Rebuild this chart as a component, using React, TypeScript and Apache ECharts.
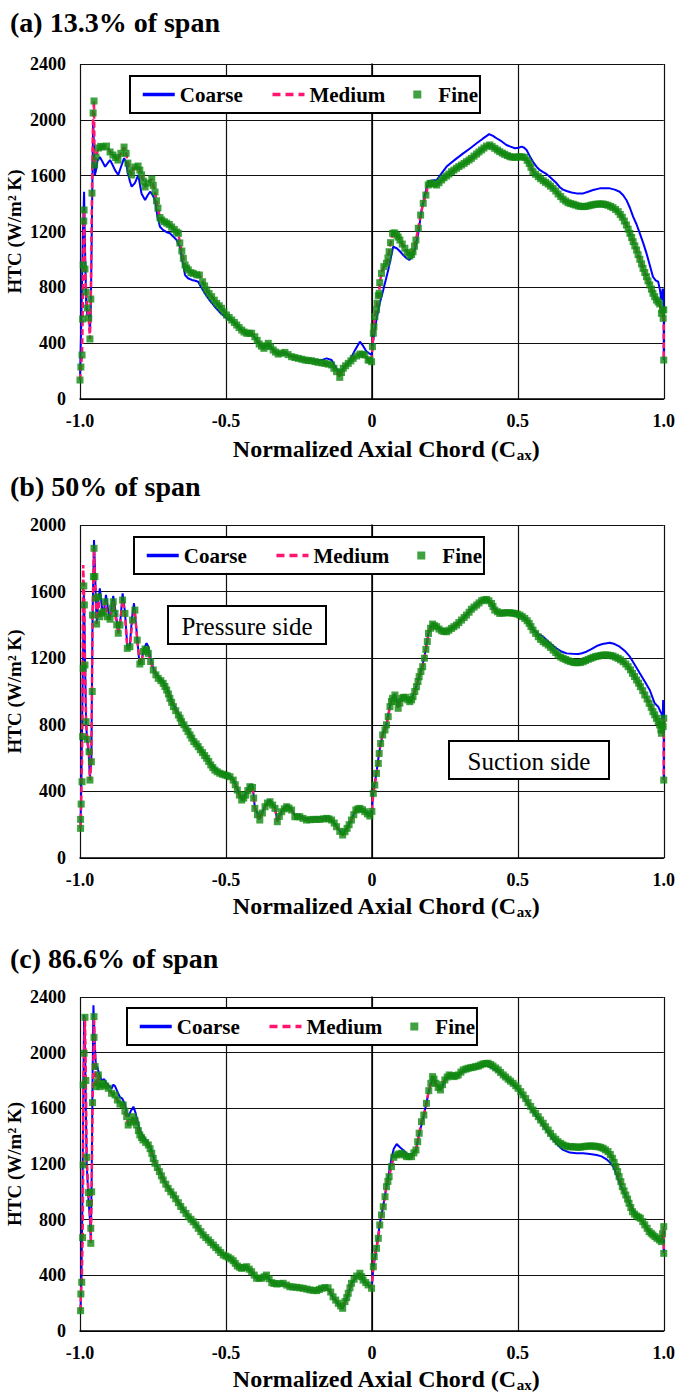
import React, { useEffect, useRef } from "react";
import * as echarts from "echarts";

// ---------- tick labels & categories ----------
const xTickLabels = ["-1.0", "-0.5", "0", "0.5", "1.0"];
const yMaxima = [2400, 2000, 2400];
const panelTitles = ["(a) 13.3% of span", "(b) 50% of span", "(c) 86.6% of span"];
const meshNames = ["Coarse", "Medium", "Fine"];

// ---------- (a) 13.3 % span ----------
const coarseA: number[][] = [
  [-1.0, 140], [-0.995, 600], [-0.99, 1200], [-0.986, 1485], [-0.983, 1100], [-0.979, 700], [-0.975, 600],
  [-0.97, 620], [-0.966, 480], [-0.963, 650], [-0.959, 1300], [-0.955, 1987], [-0.952, 1800], [-0.949, 1605],
  [-0.945, 1640], [-0.94, 1710], [-0.932, 1733], [-0.923, 1700], [-0.914, 1664], [-0.905, 1690], [-0.897, 1712],
  [-0.889, 1680], [-0.88, 1640], [-0.869, 1605], [-0.86, 1660], [-0.849, 1726], [-0.843, 1700], [-0.836, 1620],
  [-0.829, 1560], [-0.823, 1521], [-0.812, 1547], [-0.8, 1605], [-0.795, 1540], [-0.789, 1470], [-0.777, 1426],
  [-0.768, 1460], [-0.76, 1485], [-0.752, 1465], [-0.743, 1426], [-0.735, 1310], [-0.726, 1234], [-0.715, 1210],
  [-0.703, 1195], [-0.692, 1187], [-0.68, 1163], [-0.669, 1139], [-0.658, 1091], [-0.65, 1000], [-0.64, 888],
  [-0.63, 865], [-0.617, 853], [-0.605, 847], [-0.595, 840], [-0.585, 800], [-0.572, 757], [-0.555, 705],
  [-0.538, 661], [-0.52, 620], [-0.498, 578], [-0.48, 560], [-0.463, 530], [-0.446, 494], [-0.429, 471],
  [-0.412, 466], [-0.401, 440], [-0.386, 400], [-0.37, 365], [-0.355, 390], [-0.338, 355], [-0.321, 325],
  [-0.298, 330], [-0.275, 305], [-0.252, 295], [-0.229, 285], [-0.207, 280], [-0.184, 278], [-0.168, 282],
  [-0.155, 291], [-0.138, 279], [-0.125, 230], [-0.11, 184], [-0.095, 230], [-0.075, 279], [-0.058, 350],
  [-0.041, 411], [-0.03, 380], [-0.018, 339], [-0.001, 315], [0.005, 423], [0.015, 560], [0.025, 670],
  [0.039, 781], [0.056, 924], [0.073, 1091], [0.085, 1080], [0.095, 1060], [0.107, 1032], [0.118, 1010],
  [0.128, 996], [0.138, 1020], [0.147, 1067], [0.159, 1187], [0.17, 1350], [0.18, 1450], [0.193, 1557],
  [0.205, 1565], [0.222, 1569], [0.24, 1620], [0.256, 1665], [0.285, 1715], [0.313, 1760], [0.336, 1795],
  [0.359, 1832], [0.38, 1865], [0.402, 1898], [0.415, 1885], [0.427, 1868], [0.445, 1845], [0.461, 1820],
  [0.475, 1808], [0.49, 1796], [0.503, 1800], [0.513, 1808], [0.522, 1800], [0.53, 1784], [0.541, 1740],
  [0.552, 1700], [0.564, 1665], [0.575, 1641], [0.587, 1625], [0.598, 1612], [0.61, 1590], [0.621, 1569],
  [0.633, 1545], [0.644, 1517], [0.655, 1500], [0.667, 1490], [0.684, 1480], [0.701, 1473], [0.724, 1473],
  [0.741, 1485], [0.758, 1497], [0.781, 1509], [0.8, 1510], [0.815, 1509], [0.832, 1500], [0.849, 1485],
  [0.861, 1460], [0.872, 1426], [0.884, 1370], [0.895, 1306], [0.907, 1250], [0.918, 1187], [0.93, 1115],
  [0.941, 1043], [0.952, 960], [0.963, 876], [0.972, 850], [0.981, 840], [0.987, 780], [0.992, 709],
  [0.996, 790], [0.998, 781], [1.0, 616], [1.0, 279],
];

const fineA: number[][] = [
  [-1.0, 136], [-0.997, 229], [-0.993, 315], [-0.991, 573], [-0.989, 960], [-0.987, 1275], [-0.986, 1354],
  [-0.983, 931], [-0.979, 766], [-0.975, 652], [-0.97, 580], [-0.966, 430], [-0.963, 716], [-0.959, 1475],
  [-0.955, 2049], [-0.952, 2135], [-0.95, 1676], [-0.945, 1733], [-0.937, 1798], [-0.929, 1810], [-0.921, 1805],
  [-0.909, 1812], [-0.897, 1770], [-0.887, 1748], [-0.878, 1730], [-0.87, 1712], [-0.86, 1760], [-0.849, 1805],
  [-0.842, 1760], [-0.836, 1690], [-0.829, 1640], [-0.823, 1605], [-0.812, 1662], [-0.801, 1669], [-0.795, 1640],
  [-0.789, 1605], [-0.783, 1560], [-0.777, 1519], [-0.767, 1547], [-0.754, 1576], [-0.749, 1530], [-0.743, 1483],
  [-0.738, 1420], [-0.733, 1368], [-0.726, 1300], [-0.72, 1282], [-0.711, 1270], [-0.703, 1260], [-0.694, 1250],
  [-0.686, 1232], [-0.677, 1215], [-0.669, 1196], [-0.663, 1187], [-0.658, 1118], [-0.651, 1060], [-0.646, 1008],
  [-0.64, 960], [-0.635, 938], [-0.629, 925], [-0.62, 905], [-0.612, 900], [-0.6, 890], [-0.591, 888],
  [-0.58, 840], [-0.573, 810], [-0.566, 781], [-0.558, 755], [-0.549, 733], [-0.54, 708], [-0.532, 685],
  [-0.523, 668], [-0.515, 650], [-0.507, 625], [-0.498, 602], [-0.489, 584], [-0.48, 566], [-0.471, 548],
  [-0.463, 530], [-0.455, 512], [-0.446, 494], [-0.438, 480], [-0.429, 471], [-0.42, 471], [-0.412, 471],
  [-0.401, 446], [-0.393, 420], [-0.386, 394], [-0.378, 378], [-0.37, 363], [-0.362, 380], [-0.355, 399],
  [-0.347, 375], [-0.338, 351], [-0.33, 336], [-0.321, 322], [-0.31, 328], [-0.298, 334], [-0.287, 318],
  [-0.275, 303], [-0.264, 297], [-0.252, 291], [-0.24, 285], [-0.229, 279], [-0.218, 276], [-0.207, 274],
  [-0.195, 268], [-0.184, 263], [-0.172, 259], [-0.161, 255], [-0.15, 250], [-0.138, 244], [-0.13, 220],
  [-0.121, 196], [-0.11, 155], [-0.104, 190], [-0.098, 220], [-0.09, 238], [-0.081, 255], [-0.072, 273],
  [-0.064, 291], [-0.052, 308], [-0.041, 322], [-0.032, 320], [-0.024, 315], [-0.013, 279], [-0.007, 279],
  [-0.001, 267], [0.002, 375], [0.005, 471], [0.007, 518], [0.01, 590], [0.016, 640], [0.018, 686],
  [0.022, 740], [0.025, 757], [0.027, 833], [0.033, 900], [0.041, 948], [0.05, 972], [0.055, 1010],
  [0.059, 1055], [0.064, 1120], [0.071, 1187], [0.078, 1190], [0.085, 1175], [0.09, 1160], [0.096, 1139],
  [0.104, 1110], [0.113, 1080], [0.121, 1050], [0.13, 1024], [0.136, 1035], [0.141, 1055], [0.146, 1095],
  [0.151, 1139], [0.159, 1223], [0.167, 1318], [0.176, 1402], [0.185, 1461], [0.193, 1533], [0.199, 1545],
  [0.204, 1545], [0.213, 1540], [0.222, 1533], [0.23, 1550], [0.239, 1569], [0.247, 1585], [0.256, 1598],
  [0.264, 1612], [0.273, 1628], [0.281, 1640], [0.29, 1653], [0.298, 1665], [0.307, 1676], [0.316, 1688],
  [0.324, 1700], [0.333, 1712], [0.341, 1724], [0.35, 1740], [0.359, 1755], [0.367, 1770], [0.376, 1784],
  [0.384, 1798], [0.393, 1812], [0.404, 1820], [0.412, 1808], [0.421, 1796], [0.43, 1784], [0.438, 1772],
  [0.447, 1762], [0.455, 1753], [0.464, 1744], [0.473, 1736], [0.481, 1733], [0.49, 1731], [0.498, 1734],
  [0.507, 1736], [0.515, 1734], [0.524, 1731], [0.532, 1710], [0.539, 1688], [0.545, 1660], [0.552, 1628],
  [0.561, 1610], [0.57, 1593], [0.578, 1578], [0.587, 1564], [0.595, 1552], [0.604, 1540], [0.612, 1525],
  [0.621, 1509], [0.63, 1490], [0.638, 1469], [0.647, 1450], [0.655, 1431], [0.664, 1418], [0.672, 1406],
  [0.681, 1400], [0.69, 1395], [0.698, 1389], [0.707, 1383], [0.715, 1380], [0.724, 1378], [0.732, 1380],
  [0.741, 1383], [0.75, 1388], [0.758, 1392], [0.767, 1395], [0.775, 1397], [0.784, 1397], [0.792, 1397],
  [0.8, 1393], [0.809, 1388], [0.818, 1380], [0.826, 1371], [0.835, 1358], [0.844, 1342], [0.851, 1322],
  [0.858, 1302], [0.865, 1275], [0.872, 1247], [0.878, 1217], [0.884, 1187], [0.89, 1157], [0.895, 1127],
  [0.901, 1097], [0.907, 1067], [0.912, 1034], [0.918, 1001], [0.924, 968], [0.929, 936], [0.935, 906],
  [0.941, 876], [0.946, 846], [0.952, 817], [0.958, 787], [0.963, 757], [0.969, 733], [0.975, 709],
  [0.981, 695], [0.986, 681], [0.992, 614], [0.996, 640], [0.998, 578], [1.0, 638], [1.0, 279],
];
const mediumA = fineA;

// ---------- (b) 50 % span ----------
const coarseB: number[][] = [
  [-0.998, 200], [-0.995, 500], [-0.992, 900], [-0.989, 1300], [-0.987, 1600], [-0.985, 1450], [-0.982, 1100],
  [-0.979, 800], [-0.975, 700], [-0.97, 620], [-0.966, 480], [-0.961, 600], [-0.957, 1450], [-0.952, 1910],
  [-0.948, 1700], [-0.945, 1500], [-0.942, 1420], [-0.937, 1550], [-0.932, 1620], [-0.926, 1520], [-0.92, 1460],
  [-0.911, 1580], [-0.903, 1480], [-0.897, 1440], [-0.886, 1574], [-0.878, 1480], [-0.869, 1360], [-0.862, 1420],
  [-0.854, 1590], [-0.846, 1480], [-0.838, 1270], [-0.829, 1280], [-0.822, 1440], [-0.815, 1530], [-0.806, 1360],
  [-0.797, 1180], [-0.789, 1190], [-0.78, 1260], [-0.772, 1290], [-0.766, 1270], [-0.758, 1200], [-0.749, 1140],
  [-0.732, 1090], [-0.715, 1060], [-0.703, 1020], [-0.686, 945], [-0.663, 869], [-0.637, 790], [-0.61, 710],
  [-0.58, 643], [-0.552, 569], [-0.53, 528], [-0.512, 513], [-0.495, 505], [-0.486, 495], [-0.475, 475],
  [-0.461, 415], [-0.446, 355], [-0.432, 385], [-0.418, 440], [-0.409, 440], [-0.401, 305], [-0.384, 235],
  [-0.366, 315], [-0.349, 350], [-0.332, 305], [-0.324, 225], [-0.309, 285], [-0.292, 318], [-0.275, 295],
  [-0.264, 255], [-0.247, 252], [-0.224, 235], [-0.201, 238], [-0.178, 238], [-0.155, 244], [-0.138, 232],
  [-0.121, 192], [-0.1, 140], [-0.085, 180], [-0.07, 232], [-0.055, 292], [-0.041, 302], [-0.024, 282],
  [-0.007, 258], [0.0, 285], [0.005, 395], [0.016, 515], [0.025, 635], [0.037, 745], [0.05, 805], [0.062, 915],
  [0.071, 965], [0.079, 985], [0.09, 905], [0.102, 965], [0.116, 970], [0.13, 945], [0.141, 975], [0.153, 1035],
  [0.168, 1125], [0.18, 1205], [0.194, 1355], [0.208, 1410], [0.222, 1393], [0.239, 1368], [0.256, 1362],
  [0.273, 1382], [0.29, 1402], [0.307, 1432], [0.324, 1462], [0.341, 1497], [0.359, 1522], [0.376, 1548],
  [0.393, 1556], [0.41, 1532], [0.421, 1492], [0.438, 1472], [0.455, 1476], [0.473, 1476], [0.49, 1472],
  [0.507, 1462], [0.524, 1442], [0.539, 1412], [0.552, 1375], [0.57, 1345], [0.587, 1329], [0.61, 1290],
  [0.632, 1259], [0.65, 1240], [0.667, 1229], [0.687, 1226], [0.707, 1225], [0.72, 1230], [0.735, 1239],
  [0.752, 1255], [0.77, 1273], [0.79, 1285], [0.815, 1293], [0.832, 1285], [0.849, 1269], [0.866, 1245],
  [0.884, 1209], [0.9, 1162], [0.918, 1109], [0.935, 1060], [0.952, 1009], [0.969, 929], [0.981, 909],
  [0.988, 880], [0.992, 869], [0.996, 830], [0.998, 949], [1.0, 850], [1.0, 468],
];

const fineB: number[][] = [
  [-0.998, 178], [-0.998, 232], [-0.996, 324], [-0.993, 458], [-0.991, 729], [-0.989, 1139], [-0.987, 1634],
  [-0.985, 1520], [-0.983, 1159], [-0.979, 819], [-0.975, 713], [-0.969, 638], [-0.966, 468], [-0.961, 578],
  [-0.958, 1000], [-0.957, 1459], [-0.954, 1690], [-0.952, 1860], [-0.949, 1690], [-0.946, 1560], [-0.943, 1405],
  [-0.937, 1569], [-0.932, 1449], [-0.926, 1470], [-0.92, 1479], [-0.914, 1539], [-0.906, 1449], [-0.897, 1434],
  [-0.89, 1500], [-0.886, 1539], [-0.88, 1469], [-0.874, 1400], [-0.869, 1350], [-0.863, 1399], [-0.854, 1549],
  [-0.846, 1469], [-0.838, 1259], [-0.829, 1269], [-0.82, 1429], [-0.812, 1489], [-0.804, 1309], [-0.795, 1165],
  [-0.789, 1180], [-0.783, 1240], [-0.777, 1255], [-0.772, 1249], [-0.766, 1229], [-0.758, 1180], [-0.749, 1129],
  [-0.74, 1100], [-0.732, 1079], [-0.723, 1065], [-0.715, 1049], [-0.709, 1030], [-0.703, 1009], [-0.697, 985],
  [-0.692, 959], [-0.686, 935], [-0.68, 909], [-0.672, 885], [-0.663, 859], [-0.657, 840], [-0.652, 819],
  [-0.644, 800], [-0.637, 779], [-0.63, 760], [-0.623, 739], [-0.617, 720], [-0.61, 699], [-0.602, 685],
  [-0.595, 669], [-0.588, 650], [-0.58, 633], [-0.573, 615], [-0.566, 599], [-0.559, 580], [-0.552, 559],
  [-0.545, 543], [-0.538, 528], [-0.53, 518], [-0.521, 509], [-0.512, 503], [-0.503, 498], [-0.495, 494],
  [-0.486, 488], [-0.475, 468], [-0.468, 440], [-0.461, 408], [-0.454, 378], [-0.446, 348], [-0.439, 360],
  [-0.432, 378], [-0.425, 405], [-0.418, 428], [-0.409, 424], [-0.405, 360], [-0.401, 298], [-0.392, 260],
  [-0.384, 228], [-0.375, 270], [-0.366, 308], [-0.358, 330], [-0.349, 338], [-0.34, 318], [-0.332, 298],
  [-0.324, 218], [-0.317, 250], [-0.309, 278], [-0.3, 295], [-0.292, 308], [-0.284, 300], [-0.275, 288],
  [-0.264, 248], [-0.255, 248], [-0.247, 248], [-0.236, 238], [-0.224, 228], [-0.212, 230], [-0.201, 232],
  [-0.19, 232], [-0.178, 232], [-0.166, 235], [-0.155, 238], [-0.147, 235], [-0.138, 228], [-0.129, 210],
  [-0.121, 188], [-0.11, 160], [-0.1, 138], [-0.092, 158], [-0.085, 178], [-0.078, 200], [-0.07, 228],
  [-0.062, 260], [-0.055, 288], [-0.048, 295], [-0.041, 298], [-0.032, 290], [-0.024, 278], [-0.015, 265],
  [-0.007, 252], [0.0, 280], [0.005, 388], [0.01, 438], [0.016, 508], [0.022, 568], [0.025, 628], [0.03, 688],
  [0.037, 739], [0.045, 769], [0.05, 800], [0.056, 849], [0.062, 909], [0.067, 940], [0.071, 959], [0.079, 979],
  [0.085, 940], [0.09, 899], [0.096, 930], [0.102, 959], [0.108, 965], [0.116, 965], [0.123, 950], [0.13, 939],
  [0.136, 950], [0.141, 969], [0.147, 1000], [0.153, 1029], [0.158, 1060], [0.162, 1089], [0.168, 1120],
  [0.174, 1149], [0.18, 1200], [0.185, 1253], [0.19, 1300], [0.194, 1349], [0.201, 1380], [0.208, 1405],
  [0.215, 1395], [0.222, 1389], [0.23, 1375], [0.239, 1365], [0.247, 1360], [0.256, 1359], [0.264, 1368],
  [0.273, 1379], [0.281, 1389], [0.29, 1399], [0.298, 1414], [0.307, 1429], [0.316, 1444], [0.324, 1459],
  [0.333, 1476], [0.341, 1494], [0.35, 1507], [0.359, 1519], [0.367, 1532], [0.376, 1545], [0.384, 1550],
  [0.393, 1553], [0.401, 1545], [0.41, 1529], [0.415, 1510], [0.421, 1489], [0.43, 1479], [0.438, 1469],
  [0.447, 1471], [0.455, 1473], [0.464, 1473], [0.473, 1473], [0.481, 1471], [0.49, 1469], [0.498, 1465],
  [0.507, 1459], [0.515, 1450], [0.524, 1439], [0.532, 1425], [0.539, 1409], [0.545, 1390], [0.552, 1369],
  [0.561, 1349], [0.57, 1329], [0.578, 1313], [0.587, 1299], [0.595, 1290], [0.604, 1279], [0.612, 1265],
  [0.621, 1249], [0.63, 1234], [0.638, 1219], [0.647, 1207], [0.655, 1199], [0.664, 1192], [0.672, 1185],
  [0.681, 1180], [0.69, 1175], [0.698, 1173], [0.707, 1173], [0.715, 1175], [0.724, 1179], [0.732, 1186],
  [0.741, 1193], [0.75, 1199], [0.758, 1205], [0.767, 1210], [0.775, 1213], [0.784, 1216], [0.792, 1219],
  [0.8, 1219], [0.809, 1219], [0.818, 1216], [0.826, 1213], [0.835, 1206], [0.844, 1199], [0.852, 1190],
  [0.861, 1179], [0.87, 1165], [0.878, 1149], [0.886, 1130], [0.893, 1109], [0.9, 1090], [0.907, 1069],
  [0.914, 1050], [0.92, 1029], [0.928, 1005], [0.935, 979], [0.943, 955], [0.95, 929], [0.957, 905],
  [0.963, 879], [0.969, 860], [0.975, 839], [0.981, 820], [0.986, 799], [0.99, 770], [0.992, 749],
  [0.995, 800], [0.998, 789], [1.0, 839], [1.0, 468],
];
// the medium mesh overshoots at the stagnation point, then follows the fine mesh
const mediumBLeadingEdge: number[][] = [
  [-0.998, 178], [-0.996, 324], [-0.993, 600], [-0.991, 1100], [-0.989, 1760], [-0.987, 1640], [-0.985, 1520],
  [-0.983, 1159], [-0.979, 819], [-0.975, 713], [-0.969, 638], [-0.966, 468], [-0.961, 578], [-0.957, 1459],
  [-0.952, 1860],
];
const mediumB: number[][] = [...mediumBLeadingEdge, ...fineB.filter((p) => p[0] > -0.951)];

// ---------- (c) 86.6 % span ----------
const coarseC: number[][] = [
  [-0.998, 150], [-0.995, 400], [-0.992, 900], [-0.989, 1600], [-0.986, 2270], [-0.983, 2100], [-0.98, 1600],
  [-0.977, 1200], [-0.971, 950], [-0.966, 800], [-0.963, 650], [-0.96, 1100], [-0.957, 1800], [-0.954, 2340],
  [-0.95, 2100], [-0.945, 1880], [-0.941, 1899], [-0.935, 1850], [-0.926, 1800], [-0.918, 1810], [-0.909, 1780],
  [-0.9, 1760], [-0.892, 1740], [-0.886, 1770], [-0.88, 1760], [-0.872, 1720], [-0.863, 1680], [-0.855, 1670],
  [-0.846, 1630], [-0.84, 1570], [-0.835, 1540], [-0.826, 1580], [-0.817, 1612], [-0.81, 1570], [-0.8, 1480],
  [-0.795, 1440], [-0.784, 1400], [-0.766, 1350], [-0.754, 1290], [-0.743, 1215], [-0.728, 1155], [-0.715, 1095],
  [-0.698, 1035], [-0.68, 985], [-0.663, 930], [-0.646, 878], [-0.629, 829], [-0.612, 792], [-0.595, 745],
  [-0.578, 697], [-0.56, 660], [-0.543, 624], [-0.526, 588], [-0.509, 551], [-0.492, 535], [-0.475, 510],
  [-0.461, 470], [-0.446, 452], [-0.429, 462], [-0.412, 424], [-0.395, 378], [-0.378, 378], [-0.361, 400],
  [-0.343, 345], [-0.326, 336], [-0.304, 340], [-0.281, 316], [-0.258, 312], [-0.235, 305], [-0.212, 294],
  [-0.189, 288], [-0.172, 305], [-0.161, 312], [-0.15, 300], [-0.133, 240], [-0.115, 190], [-0.1, 160],
  [-0.086, 235], [-0.07, 340], [-0.052, 392], [-0.041, 410], [-0.03, 362], [-0.013, 330], [-0.001, 305],
  [0.005, 450], [0.016, 600], [0.027, 770], [0.039, 900], [0.05, 1040], [0.059, 1140], [0.067, 1240],
  [0.075, 1310], [0.085, 1344], [0.096, 1320], [0.107, 1301], [0.119, 1275], [0.136, 1265], [0.151, 1301],
  [0.162, 1415], [0.178, 1548], [0.195, 1722], [0.208, 1820], [0.219, 1775], [0.235, 1728], [0.25, 1800],
  [0.265, 1835], [0.281, 1822], [0.296, 1835], [0.313, 1868], [0.33, 1880], [0.347, 1887], [0.365, 1893],
  [0.381, 1905], [0.398, 1905], [0.415, 1887], [0.433, 1862], [0.45, 1830], [0.467, 1800], [0.484, 1770],
  [0.501, 1735], [0.518, 1685], [0.535, 1630], [0.552, 1574], [0.57, 1525], [0.587, 1475], [0.604, 1425],
  [0.621, 1375], [0.638, 1335], [0.655, 1301], [0.678, 1282], [0.701, 1277], [0.724, 1277], [0.747, 1272],
  [0.77, 1265], [0.787, 1255], [0.804, 1234], [0.816, 1210], [0.827, 1181], [0.838, 1125], [0.849, 1061],
  [0.86, 1010], [0.872, 965], [0.884, 915], [0.895, 870], [0.907, 836], [0.92, 810], [0.935, 762],
  [0.95, 714], [0.963, 690], [0.977, 666], [0.992, 640], [1.0, 700], [1.0, 560],
];

const fineC: number[][] = [
  [-0.998, 146], [-0.997, 266], [-0.994, 350], [-0.991, 671], [-0.989, 1193], [-0.989, 1768], [-0.986, 1996],
  [-0.983, 2254], [-0.98, 1800], [-0.977, 1248], [-0.971, 994], [-0.968, 918], [-0.963, 738], [-0.963, 630],
  [-0.96, 1000], [-0.957, 1641], [-0.952, 2110], [-0.952, 2259], [-0.948, 1900], [-0.945, 1756], [-0.941, 1790],
  [-0.937, 1840], [-0.932, 1756], [-0.926, 1770], [-0.92, 1780], [-0.912, 1760], [-0.903, 1744], [-0.892, 1708],
  [-0.88, 1696], [-0.872, 1660], [-0.863, 1631], [-0.852, 1624], [-0.846, 1580], [-0.84, 1540], [-0.835, 1480],
  [-0.826, 1500], [-0.817, 1540], [-0.811, 1510], [-0.806, 1480], [-0.8, 1440], [-0.795, 1409], [-0.789, 1390],
  [-0.784, 1373], [-0.775, 1355], [-0.766, 1337], [-0.76, 1310], [-0.754, 1277], [-0.749, 1240], [-0.743, 1205],
  [-0.735, 1175], [-0.728, 1145], [-0.721, 1115], [-0.715, 1085], [-0.706, 1055], [-0.698, 1025], [-0.689, 1000],
  [-0.68, 977], [-0.672, 950], [-0.663, 922], [-0.655, 895], [-0.646, 870], [-0.637, 845], [-0.629, 821],
  [-0.62, 803], [-0.612, 785], [-0.603, 762], [-0.595, 738], [-0.586, 714], [-0.578, 690], [-0.569, 672],
  [-0.56, 654], [-0.552, 636], [-0.543, 618], [-0.535, 600], [-0.526, 582], [-0.518, 564], [-0.509, 546],
  [-0.5, 538], [-0.492, 530], [-0.483, 518], [-0.475, 505], [-0.468, 486], [-0.461, 467], [-0.453, 458],
  [-0.446, 450], [-0.437, 456], [-0.429, 462], [-0.42, 444], [-0.412, 426], [-0.403, 402], [-0.395, 379],
  [-0.386, 379], [-0.378, 379], [-0.369, 390], [-0.361, 402], [-0.352, 375], [-0.343, 347], [-0.335, 342],
  [-0.326, 338], [-0.315, 340], [-0.304, 343], [-0.292, 330], [-0.281, 318], [-0.27, 316], [-0.258, 314],
  [-0.247, 310], [-0.235, 307], [-0.223, 301], [-0.212, 295], [-0.2, 292], [-0.189, 290], [-0.18, 298],
  [-0.172, 307], [-0.161, 312], [-0.15, 310], [-0.141, 280], [-0.133, 246], [-0.124, 222], [-0.115, 199],
  [-0.107, 180], [-0.1, 163], [-0.092, 211], [-0.086, 240], [-0.081, 271], [-0.075, 310], [-0.07, 343],
  [-0.061, 372], [-0.052, 395], [-0.041, 415], [-0.035, 390], [-0.03, 366], [-0.021, 348], [-0.013, 331],
  [-0.001, 307], [0.005, 462], [0.008, 534], [0.016, 594], [0.022, 666], [0.027, 762], [0.033, 834],
  [0.039, 893], [0.045, 965], [0.05, 1037], [0.055, 1075], [0.059, 1109], [0.067, 1181], [0.075, 1248],
  [0.085, 1265], [0.093, 1272], [0.102, 1277], [0.11, 1265], [0.119, 1253], [0.128, 1253], [0.136, 1253],
  [0.144, 1280], [0.151, 1301], [0.157, 1360], [0.162, 1421], [0.17, 1504], [0.178, 1552], [0.187, 1636],
  [0.195, 1727], [0.202, 1780], [0.208, 1828], [0.213, 1810], [0.219, 1780], [0.227, 1750], [0.235, 1732],
  [0.242, 1770], [0.25, 1804], [0.258, 1825], [0.265, 1840], [0.273, 1835], [0.281, 1828], [0.289, 1834],
  [0.296, 1840], [0.305, 1860], [0.313, 1876], [0.322, 1882], [0.33, 1888], [0.339, 1892], [0.347, 1895],
  [0.356, 1900], [0.365, 1904], [0.373, 1912], [0.381, 1919], [0.39, 1922], [0.398, 1924], [0.407, 1915],
  [0.415, 1904], [0.424, 1890], [0.433, 1876], [0.441, 1858], [0.45, 1840], [0.458, 1825], [0.467, 1809],
  [0.475, 1795], [0.484, 1780], [0.493, 1762], [0.501, 1744], [0.51, 1720], [0.518, 1696], [0.527, 1670],
  [0.535, 1641], [0.544, 1614], [0.552, 1588], [0.561, 1564], [0.57, 1540], [0.578, 1516], [0.587, 1493],
  [0.595, 1468], [0.604, 1444], [0.612, 1420], [0.621, 1396], [0.63, 1378], [0.638, 1360], [0.647, 1348],
  [0.655, 1337], [0.664, 1330], [0.672, 1324], [0.681, 1324], [0.69, 1324], [0.698, 1322], [0.707, 1320],
  [0.715, 1322], [0.724, 1324], [0.732, 1327], [0.741, 1329], [0.75, 1329], [0.758, 1329], [0.767, 1327],
  [0.775, 1324], [0.784, 1320], [0.792, 1313], [0.8, 1302], [0.809, 1289], [0.817, 1268], [0.824, 1241],
  [0.83, 1212], [0.836, 1181], [0.842, 1145], [0.847, 1109], [0.853, 1073], [0.858, 1037], [0.864, 1007],
  [0.87, 977], [0.876, 948], [0.881, 918], [0.887, 887], [0.893, 857], [0.9, 840], [0.907, 826], [0.914, 818],
  [0.92, 810], [0.928, 786], [0.935, 762], [0.943, 738], [0.95, 714], [0.957, 702], [0.963, 690], [0.97, 678],
  [0.977, 666], [0.985, 654], [0.992, 642], [0.996, 700], [1.0, 750], [1.0, 558],
];
const mediumC = fineC;

const coarseSets = [coarseA, coarseB, coarseC];
const mediumSets = [mediumA, mediumB, mediumC];
const fineSets = [fineA, fineB, fineC];

// ---------- styling ----------
const SERIF = '"Liberation Serif", "Times New Roman", Times, serif';
const BLUE = "#0000ff";
const PINK = "#ff1470";
const GREEN = "#108a10";

const grids = [
  { left: 80, top: 64, width: 584, height: 335 },
  { left: 80, top: 525, width: 584, height: 333 },
  { left: 80, top: 997, width: 584, height: 334 },
];
const legendPos = [
  { left: 130, top: 76 },
  { left: 134, top: 537 },
  { left: 127, top: 1008 },
];
const titleY = [23, 487, 959];
const xNameY = [449, 906, 1379];

function buildOption(): echarts.EChartsOption {
  const xAxis = grids.map((_, i) => ({
    type: "value" as const,
    gridIndex: i,
    min: -1,
    max: 1,
    interval: 0.5,
    axisLine: { show: true, onZero: false, lineStyle: { color: "#000", width: 1.5 } },
    axisTick: { show: false },
    splitLine: { show: true, lineStyle: { color: "#111", width: 1.2 } },
    axisLabel: {
      margin: 13,
      fontFamily: SERIF,
      fontWeight: "bold" as const,
      fontSize: 18,
      color: "#000",
      formatter: (v: number) => xTickLabels[Math.round((v + 1) / 0.5)] ?? "",
    },
  }));
  const yAxis = grids.map((_, i) => ({
    type: "value" as const,
    gridIndex: i,
    min: 0,
    max: yMaxima[i],
    interval: 400,
    axisLine: { show: true, lineStyle: { color: "#000", width: 1.5 } },
    axisTick: { show: false },
    splitLine: { show: true, lineStyle: { color: "#111", width: 1.2 } },
    axisLabel: {
      margin: 14,
      fontFamily: SERIF,
      fontWeight: "bold" as const,
      fontSize: 18,
      color: "#000",
      formatter: (v: number) => String(v),
    },
  }));

  const series: any[] = [];
  grids.forEach((_, i) => {
    series.push({
      type: "line",
      name: meshNames[0],
      xAxisIndex: i,
      yAxisIndex: i,
      data: coarseSets[i],
      symbol: "none",
      lineStyle: { color: BLUE, width: 2 },
      itemStyle: { color: BLUE },
      z: 2,
    });
    series.push({
      type: "line",
      name: meshNames[1],
      xAxisIndex: i,
      yAxisIndex: i,
      data: mediumSets[i],
      symbol: "none",
      lineStyle: { color: PINK, width: 2.5, type: [6, 3] },
      itemStyle: { color: PINK },
      z: 3,
    });
    series.push({
      type: "scatter",
      name: meshNames[2],
      xAxisIndex: i,
      yAxisIndex: i,
      data: fineSets[i],
      symbol: "rect",
      symbolSize: 7,
      itemStyle: { color: GREEN },
      z: 4,
    });
  });

  const legendItems = [
    { name: meshNames[0], itemStyle: { color: "transparent", borderWidth: 0 }, lineStyle: { color: BLUE, width: 3.5, type: "solid" } },
    { name: meshNames[1], itemStyle: { color: "transparent", borderWidth: 0 }, lineStyle: { color: PINK, width: 3.5, type: [8, 5] } },
    { name: meshNames[2], icon: "path://M0,0L10,0L10,10L0,10Z", itemStyle: { color: GREEN } },
  ];

  const legend = legendPos.map((p) => ({
    left: p.left,
    top: p.top,
    orient: "horizontal" as const,
    data: legendItems,
    selectedMode: false,
    symbolKeepAspect: true,
    itemWidth: 32,
    itemHeight: 8,
    itemGap: 28,
    padding: [8, 2, 8, 11],
    borderColor: "#000",
    borderWidth: 2,
    backgroundColor: "#fff",
    textStyle: { fontFamily: SERIF, fontWeight: "bold" as const, fontSize: 21, color: "#000" },
    z: 10,
  }));

  const graphic: any[] = [];
  panelTitles.forEach((t, i) => {
    graphic.push({
      type: "text",
      left: 10,
      top: titleY[i] - 15,
      style: { text: t, font: `bold 28px ${SERIF}`, fill: "#000" },
    });
    graphic.push({
      type: "text",
      x: 14,
      y: grids[i].top + grids[i].height / 2,
      rotation: Math.PI / 2,
      style: {
        text: "HTC (W/m² K)",
        font: `bold 19px ${SERIF}`,
        fill: "#000",
        align: "center",
        verticalAlign: "middle",
      },
    });
    graphic.push({
      type: "text",
      x: 386,
      y: xNameY[i],
      style: {
        text: "{n|Normalized Axial Chord (C}{s|ax}{n|)}",
        align: "center",
        verticalAlign: "middle",
        rich: {
          n: { font: `bold 24px ${SERIF}`, fill: "#000", lineHeight: 26 },
          s: { font: `bold 15px ${SERIF}`, fill: "#000", lineHeight: 26, verticalAlign: "bottom", padding: [6, 0, 0, 0] },
        },
      },
    });
  });

  // side annotations in panel (b)
  const boxes = [
    { text: "Pressure side", x: 168, y: 606, w: 158, h: 38 },
    { text: "Suction side", x: 449, y: 741, w: 160, h: 38 },
  ];
  boxes.forEach((b) => {
    graphic.push({
      type: "rect",
      shape: { x: b.x, y: b.y, width: b.w, height: b.h },
      style: { fill: "#fff", stroke: "#000", lineWidth: 2 },
      z: 10,
    });
    graphic.push({
      type: "text",
      x: b.x + b.w / 2,
      y: b.y + b.h / 2 + 1,
      style: { text: b.text, font: `25px ${SERIF}`, fill: "#000", align: "center", verticalAlign: "middle" },
      z: 11,
    });
  });

  return {
    animation: false,
    backgroundColor: "#fff",
    grid: grids.map((g) => ({ ...g, containLabel: false })),
    xAxis,
    yAxis,
    legend,
    series,
    graphic,
  };
}

export default function App() {
  const ref = useRef<HTMLDivElement>(null);
  useEffect(() => {
    if (!ref.current) return;
    const chart = echarts.init(ref.current, undefined, { renderer: "svg" });
    chart.setOption(buildOption());
    return () => chart.dispose();
  }, []);
  return (
    <div
      ref={ref}
      style={{ position: "absolute", left: 0, top: 0, width: 678, height: 1394, background: "#fff" }}
    />
  );
}
